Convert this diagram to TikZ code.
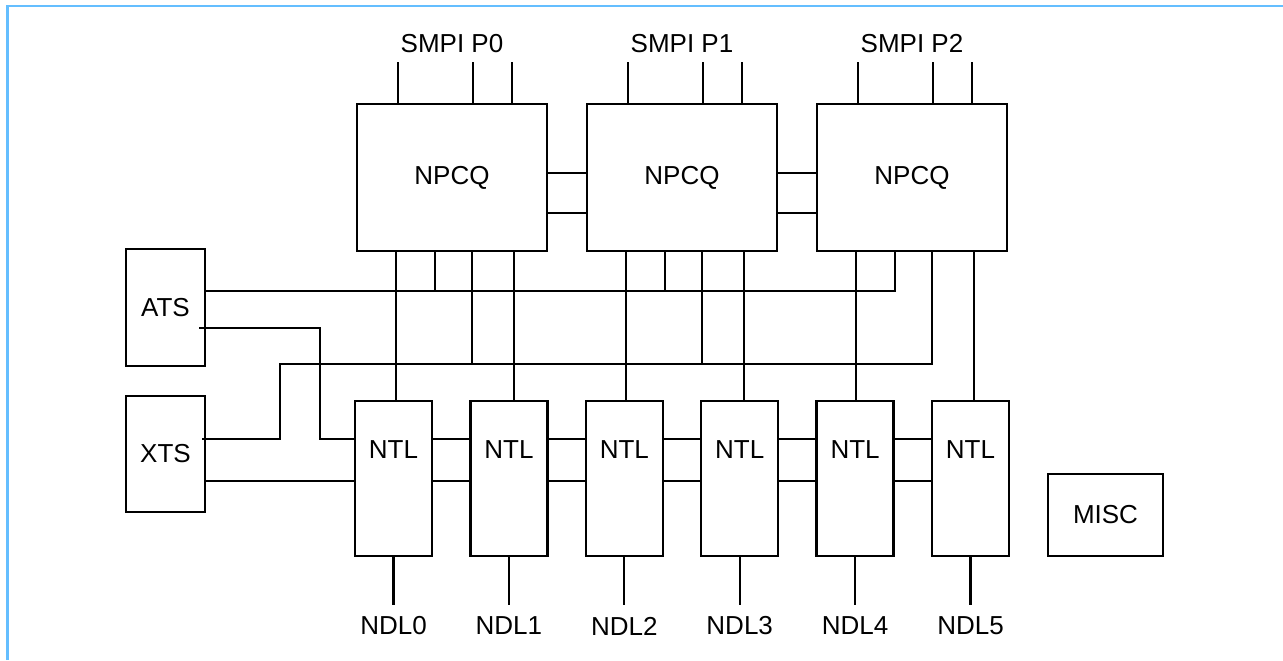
\documentclass[tikz,border=0pt]{standalone}
\usepackage{fontspec}
\setmainfont{Liberation Sans}
\definecolor{frameblue}{RGB}{100,190,255}

\begin{document}
\begin{tikzpicture}[
  x=0.5pt,
  y=-0.5pt,
  font=\fontsize{13pt}{15pt}\selectfont,
  line width=1.15pt,
  blockbox/.style={
    draw=black,
    inner sep=0pt,
    outer sep=0pt
  },
  npcqbox/.style={blockbox, minimum width=95pt, minimum height=73.5pt},
  ntlbox/.style={blockbox, minimum width=38.5pt, minimum height=77.5pt,
    label={[anchor=base, yshift=-28.5pt]north:NTL}},
  sidebox/.style={blockbox, minimum width=39.5pt, minimum height=58.25pt},
  portlabel/.style={inner sep=0pt}
]

\useasboundingbox (0,0) rectangle (1283,660);
\draw[frameblue, line width=1.3pt] (7.5,660) -- (7.5,6) -- (1283,6);

\foreach \i in {0,1,2} {
  \node[npcqbox] (npcq\i) at ({452+230*\i},177.5) {NPCQ};
  \node[portlabel] (smpi\i) at ({452+230*\i},43.5) {SMPI P\i};
  \foreach \dx in {20.5,58,77.5}
    \draw ([xshift=\dx pt]npcq\i.north west) -- ++(0,-42);
}

\foreach \i in {0,...,5} {
  \node[ntlbox] (ntl\i) at ({393.5+115.4*\i},478.5) {};
  \node[portlabel] (ndl\i) at ({393.5+115.4*\i},626) {NDL\i};
  \draw (ntl\i.south) -- ++(0,49);
}

\node[sidebox] (ats) at (165.5,307.5) {ATS};
\node[sidebox] (xts) at (165.5,454) {XTS};
\node[blockbox, minimum width=57.5pt, minimum height=41pt] (misc) at (1105.5,515) {MISC};

\foreach \i/\j in {0/1,1/2} {
  \draw ([yshift=2.25pt]npcq\i.east) -- ([yshift=2.25pt]npcq\j.west);
  \draw ([yshift=-17.75pt]npcq\i.east) -- ([yshift=-17.75pt]npcq\j.west);
}

\foreach \i/\j in {0/1,1/2,2/3,3/4,4/5} {
  \draw ([yshift=19.75pt]ntl\i.east) -- ([yshift=19.75pt]ntl\j.west);
  \draw ([yshift=-1.25pt]ntl\i.east) -- ([yshift=-1.25pt]ntl\j.west);
}

\foreach \i/\a/\b in {0/0/1,1/2/3,2/4/5} {
  \draw ([xshift=19.5pt]npcq\i.south west) coordinate (d) -- (d |- ntl\a.north);
  \draw ([xshift=78.5pt]npcq\i.south west) coordinate (d) -- (d |- ntl\b.north);
}

\coordinate (atsbus) at ([yshift=8.25pt]ats.east);
\draw (atsbus) -| ([xshift=39pt]npcq2.south west);
\foreach \i in {0,1}
  \draw ([xshift=39pt]npcq\i.south west) coordinate (d) -- (d |- atsbus);

\coordinate (xtsbus) at (280,364);
\draw ([xshift=-1.5pt,yshift=7.5pt]xts.east) -| (xtsbus) -| ([xshift=57.5pt]npcq2.south west);
\foreach \i in {0,1}
  \draw ([xshift=57.5pt]npcq\i.south west) coordinate (d) -- (d |- xtsbus);

\draw ([xshift=-3pt,yshift=-10.25pt]ats.east) -- ++(121,0) |- ([yshift=19.75pt]ntl0.west);
\draw ([yshift=-1.25pt]ntl0.west) coordinate (d) -- (d -| xts.east);

\end{tikzpicture}
\end{document}
